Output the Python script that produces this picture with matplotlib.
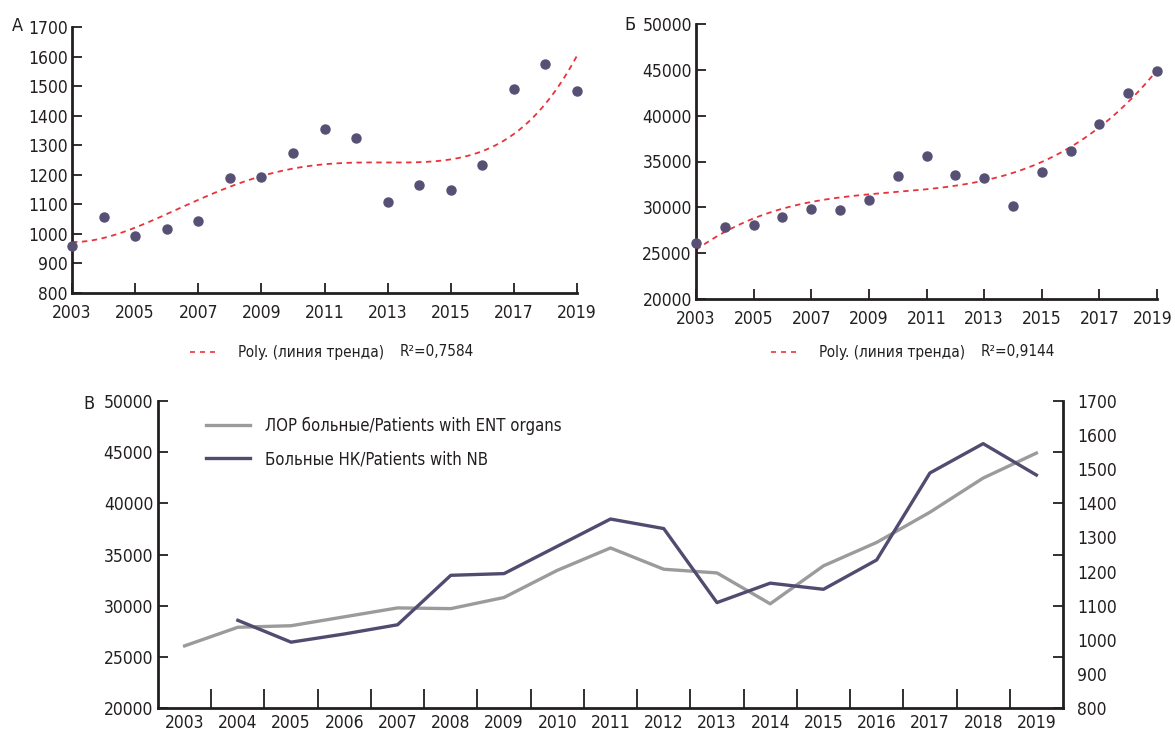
import numpy as np
import matplotlib
matplotlib.use('Agg')
from matplotlib import pyplot as plt
from matplotlib.lines import Line2D
from matplotlib.ticker import MultipleLocator
from matplotlib.transforms import ScaledTranslation

plt.rcParams['font.family'] = ['DejaVu Sans']
plt.rcParams['font.stretch'] = 'condensed'

years = np.arange(2003, 2020)
# Больные НК / Patients with NB
nb_patients = [960, 1057, 993, 1017, 1044, 1189, 1194, 1274, 1354, 1326,
               1109, 1166, 1148, 1234, 1489, 1575, 1483]
# ЛОР больные / Patients with ENT organs
ent_patients = [26070, 27890, 28040, 28910, 29780, 29710, 30800, 33450, 35640,
                33560, 33200, 30180, 33890, 36180, 39130, 42470, 44910]
year_labels = [str(y) for y in years]

r2_nb = '0,7584'
r2_ent = '0,9144'

DOT = '#575074'
TREND = '#e8333b'
GRAY = '#9b9b9b'
DARK = '#524b70'
INK = '#231f20'

W, H = 1175, 731
fig = plt.figure(figsize=(W / 100, H / 100), dpi=100)


def px(x0, y0, x1, y1):
    # pixel box -> figure fraction rect
    return [x0 / W, 1 - y1 / H, (x1 - x0) / W, (y1 - y0) / H]


def style_axes(ax):
    for s in ['top', 'right']:
        ax.spines[s].set_visible(False)
    for s in ['left', 'bottom']:
        ax.spines[s].set_linewidth(2.0)
        ax.spines[s].set_color(INK)
    ax.tick_params(direction='in', length=7, width=1.3, color=INK,
                   labelsize=12.5, labelcolor=INK)


def r_squared(x, y, deg):
    c = np.polyfit(x, y, deg)
    res = y - np.polyval(c, x)
    return 1 - np.sum(res ** 2) / np.sum((y - y.mean()) ** 2)


def scatter_panel(rect, values, ylim, ystep, letter, letter_xy, r2, legend_x):
    ax = fig.add_axes(px(*rect))
    style_axes(ax)
    vals = np.array(values, dtype=float)
    ax.plot(years, vals, 'o', color=DOT, ms=6.5, clip_on=False, zorder=3)
    t = (years - 2011) / 8.0
    # pick the polynomial order whose R^2 is nearest to the printed one
    target = float(r2.replace(',', '.'))
    fits = {d: r_squared(t, vals, d) for d in range(2, 7)}
    deg = min(fits, key=lambda d: abs(fits[d] - target))
    coef = np.polyfit(t, vals, deg)
    xs = np.linspace(2003, 2019, 200)
    ax.plot(xs, np.polyval(coef, (xs - 2011) / 8.0), '--', color=TREND,
            lw=1.3, dashes=(3, 2.5), clip_on=False)
    ax.set_xlim(2003, 2019)
    ax.set_ylim(*ylim)
    ax.set_xticks(years[::2])
    ax.yaxis.set_major_locator(MultipleLocator(ystep))
    ax.tick_params(axis='x', pad=8)
    ax.tick_params(axis='y', pad=3)
    fig.text(letter_xy[0] / W, 1 - letter_xy[1] / H, letter, fontsize=13,
             color=INK, va='center', ha='left')
    # legend of the trend line
    ly = 1 - 352 / H
    fig.add_artist(Line2D([legend_x / W, (legend_x + 26) / W], [ly, ly],
                          color=TREND, lw=1.2, ls='--', dashes=(3, 3)))
    fig.text((legend_x + 48) / W, ly, 'Poly. (линия тренда)', fontsize=11,
             color=INK, va='center')
    fig.text((legend_x + 210) / W, ly, 'R²=' + r2, fontsize=11,
             color=INK, va='center')
    return ax


scatter_panel((72, 27, 577, 293), nb_patients, (800, 1700), 100,
              'А', (12, 26), r2_nb, 190)
axb = scatter_panel((696, 24, 1157, 299), ent_patients, (20000, 50000), 5000,
                    'Б', (624, 25), r2_ent, 771)
# keep the last year label inside the picture
last = axb.get_xticklabels()[-1]
last.set_transform(last.get_transform()
                   + ScaledTranslation(-4 / 100, 0, fig.dpi_scale_trans))

# panel В: both series on twin axes
axc = fig.add_axes(px(158, 401, 1063, 708))
style_axes(axc)
xi = np.arange(len(years))
axc.plot(xi, ent_patients, color=GRAY, lw=2.4,
         label='ЛОР больные/Patients with ENT organs')
axc.set_xlim(-0.5, len(years) - 0.5)
axc.set_ylim(20000, 50000)
axc.yaxis.set_major_locator(MultipleLocator(5000))
axc.set_xticks(xi)
axc.set_xticklabels(year_labels)
axc.tick_params(axis='x', length=0, pad=4)
axc.set_xticks(xi[:-1] + 0.5, minor=True)
axc.tick_params(axis='x', which='minor', direction='in', length=14,
                width=1.3, color=INK)

axr = axc.twinx()
nb_c = np.array(nb_patients, dtype=float)
nb_c[0] = np.nan  # no 2003 point on panel В
axr.plot(xi, nb_c, color=DARK, lw=2.4, label='Больные НК/Patients with NB')
axr.set_ylim(800, 1700)
for s in ['top', 'left', 'bottom']:
    axr.spines[s].set_visible(False)
axr.spines['right'].set_linewidth(2.0)
axr.spines['right'].set_color(INK)
# tick marks follow the left axis grid, labels every 100
axr.yaxis.remove_overlapping_locs = False
axr.set_yticks(np.arange(800, 1701, 150))
axr.set_yticklabels([])
axr.tick_params(axis='y', which='major', direction='in', length=7,
                width=1.3, color=INK)
axr.set_yticks(np.arange(800, 1701, 100), minor=True)
axr.set_yticklabels([str(v) for v in range(800, 1701, 100)], minor=True)
axr.tick_params(axis='y', which='minor', length=0, pad=10,
                labelsize=12.5, labelcolor=INK)

fig.text(83 / W, 1 - 404 / H, 'В', fontsize=13, color=INK, va='center')

handles = axc.get_lines() + axr.get_lines()
axc.legend(handles, [h.get_label() for h in handles], frameon=False,
           loc='upper left', bbox_to_anchor=(191 / W, 1 - 402 / H),
           bbox_transform=fig.transFigure, fontsize=12, handlelength=2.65,
           handletextpad=0.9, labelspacing=0.9, labelcolor=INK)

fig.savefig('out.png', dpi=100)
